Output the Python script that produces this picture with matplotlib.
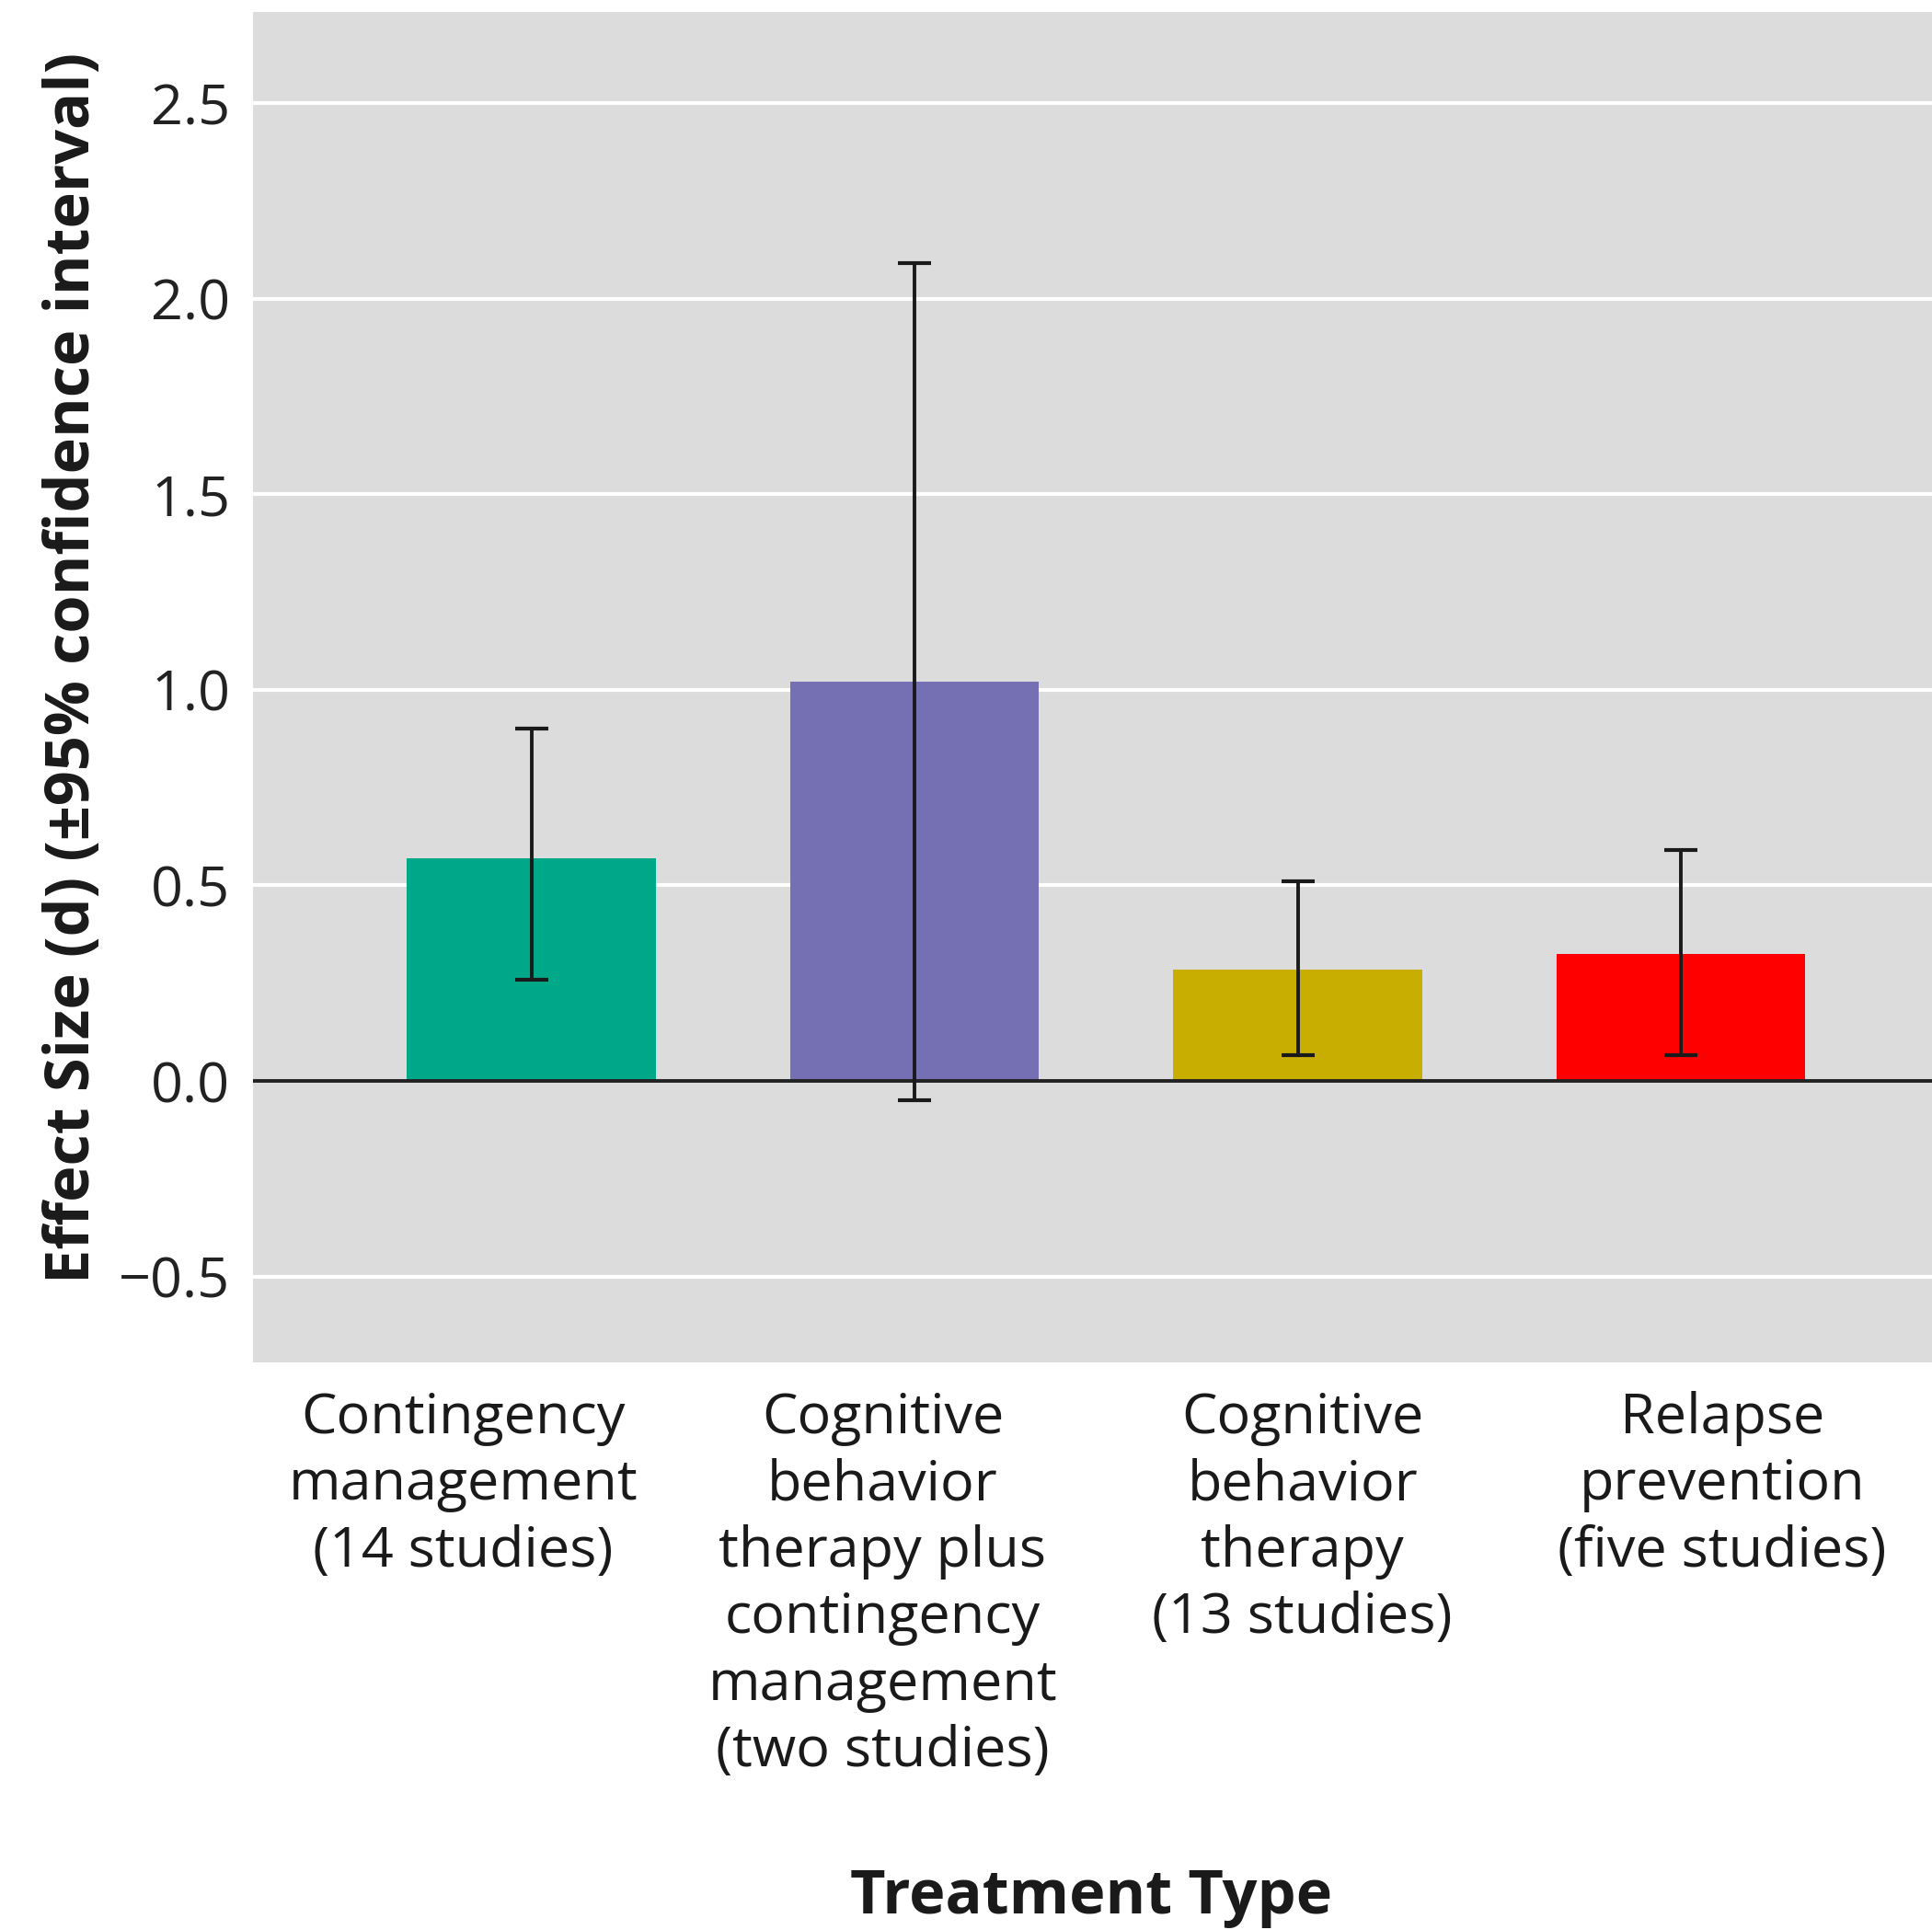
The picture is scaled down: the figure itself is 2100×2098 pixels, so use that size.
import matplotlib
matplotlib.use("Agg")
import matplotlib.pyplot as plt
import numpy as np

# data
categories = ["Contingency\nmanagement\n(14 studies)",
              "Cognitive\nbehavior\ntherapy plus\ncontingency\nmanagement\n(two studies)",
              "Cognitive\nbehavior\ntherapy\n(13 studies)",
              "Relapse\nprevention\n(five studies)"]
effect = [0.57, 1.02, 0.285, 0.325]
ci_low = [0.26, -0.05, 0.065, 0.065]
ci_high = [0.90, 2.09, 0.51, 0.59]
bar_colors = ["#00a88a", "#7570b4", "#c8ae00", "#ff0000"]
yticks = [-0.5, 0.0, 0.5, 1.0, 1.5, 2.0, 2.5]

tick_font = ["Open Sans", "DejaVu Sans"]
cat_font = ["Open Sans", "DejaVu Sans"]

fig = plt.figure(figsize=(21, 20.98), dpi=100)
ax = fig.add_axes([0.131, 0.294, 0.869, 0.700])
ax.set_facecolor("#dcdcdc")

x = np.arange(len(effect))
err = [np.array(effect) - np.array(ci_low), np.array(ci_high) - np.array(effect)]

for yv in yticks:
    if yv != 0.0:
        ax.axhline(yv, color="white", lw=3, zorder=1)

ax.bar(x, effect, width=0.65, color=bar_colors, zorder=2)
ax.axhline(0.0, color="#222222", lw=2.8, zorder=3)
ax.errorbar(x, effect, yerr=err, fmt="none", ecolor="#1a1a1a",
            elinewidth=2.8, capsize=13, capthick=3, zorder=4)

ax.set_xlim(-0.727, 3.656)
ax.set_ylim(-0.72, 2.734)
ax.set_yticks(yticks)
ax.set_yticklabels(["\u22120.5", "0.0", "0.5", "1.0", "1.5", "2.0", "2.5"],
                   family=tick_font, fontsize=44, color="#222222")
ax.tick_params(axis="y", length=0, pad=18)
ax.set_xticks([])
for s in ax.spines.values():
    s.set_visible(False)

# category labels sit at quarter positions of the axes, not under the bars
for i, lab in enumerate(categories):
    ax.text(0.125 + 0.25 * i, -0.021, lab, transform=ax.transAxes,
            ha="center", va="top", family=cat_font, fontsize=44,
            linespacing=1.27, color="#1a1a1a")

fig.text(0.038, 0.654, "Effect Size (d) (\u00b195% confidence interval)",
         rotation=90, ha="center", va="center",
         family=tick_font, fontsize=48, fontweight="bold", color="#1a1a1a")
fig.text(0.565, 0.017, "Treatment Type", ha="center", va="center",
         family=tick_font, fontsize=48, fontweight="bold", color="#1a1a1a")

fig.savefig("out.png", dpi=100)
